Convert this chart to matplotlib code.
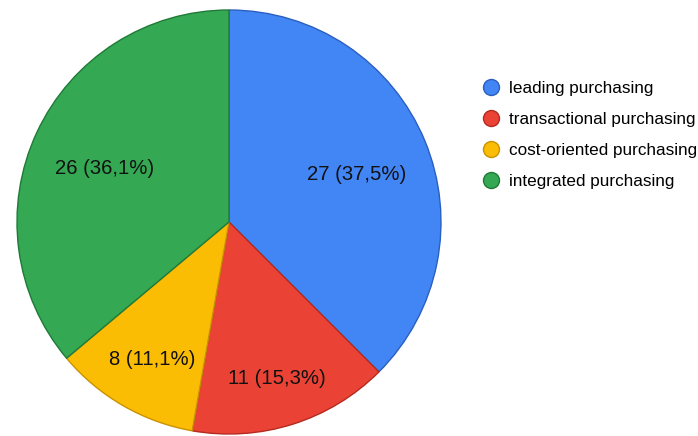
import numpy as np
import matplotlib.pyplot as plt
from matplotlib.lines import Line2D

plt.rcParams['font.family'] = ['Liberation Sans', 'DejaVu Sans']

# purchasing types and counts
categories = ['leading purchasing', 'transactional purchasing',
              'cost-oriented purchasing', 'integrated purchasing']
counts = [27, 11, 8, 26]
pct_labels = ['37,5%', '15,3%', '11,1%', '36,1%']

colors = ['#4285F4', '#EA4335', '#FBBC04', '#34A853']
edges = ['#2a5fc0', '#b52a1f', '#c99200', '#1f7a38']
label_dist = [0.65, 0.75, 0.72, 0.65]

fig = plt.figure(figsize=(6.98, 4.36), dpi=100)
W, H = 698, 436
cx, cy, r = 229, 222, 212
ax = fig.add_axes([(cx - r) / W, (H - cy - r) / H, 2 * r / W, 2 * r / H])

wedges, _ = ax.pie(counts, colors=colors, startangle=90, counterclock=False,
                   wedgeprops=dict(linewidth=1.0))
for w, ec in zip(wedges, edges):
    w.set_edgecolor(ec)

for w, n, p, d in zip(wedges, counts, pct_labels, label_dist):
    ang = np.deg2rad((w.theta1 + w.theta2) / 2)
    ax.annotate(f'{n} ({p})', (d * np.cos(ang), d * np.sin(ang)),
                xytext=(0, -5), textcoords='offset pixels',
                ha='center', va='center', fontsize=14.6, color='#111111')
ax.set_xlim(-1.0, 1.0)
ax.set_ylim(-1.0, 1.0)
ax.set_aspect('equal')
ax.axis('off')

handles = [Line2D([], [], marker='o', linestyle='none', markersize=11.5,
                  markerfacecolor=c, markeredgecolor=e, markeredgewidth=1.0)
           for c, e in zip(colors, edges)]
fig.legend(handles, categories, loc='upper left', bbox_to_anchor=(481 / W, 1 - 81 / H),
           frameon=False, fontsize=12.3, handletextpad=0.44, labelspacing=0.935,
           handlelength=1.2, borderaxespad=0, borderpad=0)

fig.savefig('out.png', dpi=100)
